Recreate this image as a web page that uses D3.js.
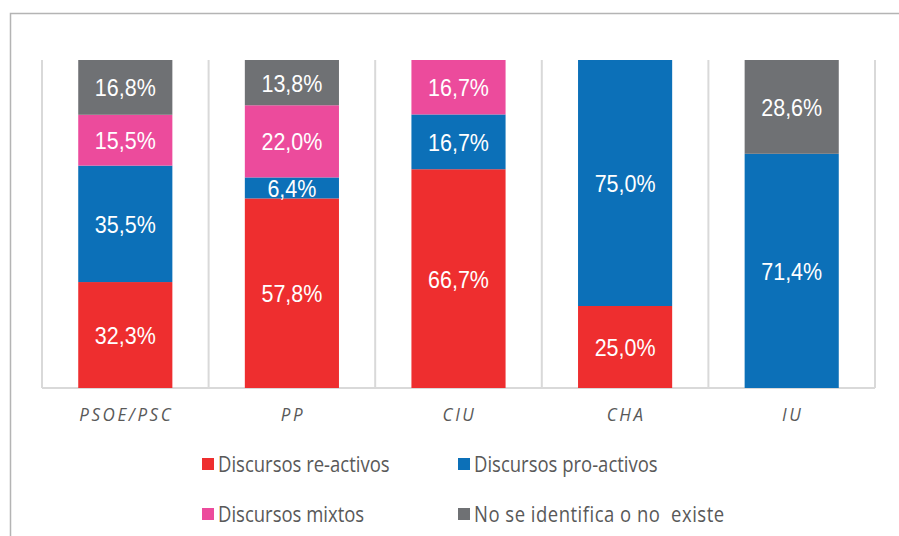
<!DOCTYPE html>
<html>
<head>
<meta charset="utf-8">
<script src="https://cdn.jsdelivr.net/npm/d3@7"></script>
<style>
  body { margin: 0; background: white; }
</style>
</head>
<body>
<div id="chart"></div>
<script>
const partidos = ["PSOE/PSC", "PP", "CIU", "CHA", "IU"];
const series = ["Discursos re-activos", "Discursos pro-activos", "Discursos mixtos", "No se identifica o no  existe"];
const colores = ["#ee2e2f", "#0c70b8", "#ec4b9c", "#6f7174"];

const reactivos = [32.3, 57.8, 66.7, 25.0, 0];
const proactivos = [35.5, 6.4, 16.7, 75.0, 71.4];
const mixtos = [15.5, 22.0, 16.7, 0, 0];
const noExiste = [16.8, 13.8, 0, 0, 28.6];

const width = 899;
const height = 536;
const margin = { top: 60, right: 24, bottom: 148, left: 42 };

const svg = d3.select("#chart")
    .append("svg")
    .attr("width", width)
    .attr("height", height);

// marco exterior
svg.append("rect")
    .attr("x", 10.5)
    .attr("y", 13.5)
    .attr("width", 900)
    .attr("height", 540)
    .attr("fill", "none")
    .attr("stroke", "#b4b4b4")
    .attr("stroke-width", 1.5);

const x = d3.scaleBand()
    .domain(partidos)
    .range([margin.left, width - margin.right])
    .paddingInner(0.435)
    .paddingOuter(0.2175);

const y = d3.scaleLinear()
    .domain([0, 100])
    .range([height - margin.bottom, margin.top]);

const step = x.step();
const x0 = margin.left;

// lineas verticales
svg.append("g")
    .selectAll("line")
    .data(d3.range(partidos.length + 1))
    .enter()
    .append("line")
    .attr("x1", i => x0 + i * step)
    .attr("x2", i => x0 + i * step)
    .attr("y1", y(100))
    .attr("y2", y(0))
    .attr("stroke", "#d9d9d9")
    .attr("stroke-width", 2);

svg.append("line")
    .attr("x1", x0)
    .attr("x2", x0 + partidos.length * step)
    .attr("y1", y(0))
    .attr("y2", y(0))
    .attr("stroke", "#d9d9d9")
    .attr("stroke-width", 2);

const tabla = partidos.map((p, i) => ({
    partido: p,
    [series[0]]: reactivos[i],
    [series[1]]: proactivos[i],
    [series[2]]: mixtos[i],
    [series[3]]: noExiste[i]
}));

const stack = d3.stack().keys(series);
const capas = stack(tabla);

const g = svg.append("g");

capas.forEach((capa, k) => {
    const visibles = capa.filter(d => d[1] - d[0] > 0);

    g.selectAll(".seg" + k)
        .data(visibles)
        .enter()
        .append("rect")
        .attr("x", d => x(d.data.partido))
        .attr("y", d => y(Math.min(d[1], 100)))
        .attr("width", x.bandwidth())
        .attr("height", d => y(d[0]) - y(Math.min(d[1], 100)))
        .attr("fill", colores[k]);

    g.selectAll(".lab" + k)
        .data(visibles)
        .enter()
        .append("text")
        .attr("transform", d =>
            `translate(${x(d.data.partido) + x.bandwidth() / 2},${y((d[0] + Math.min(d[1], 100)) / 2)}) scale(1,1.15)`)
        .attr("dy", "0.36em")
        .attr("text-anchor", "middle")
        .attr("fill", "white")
        .style("font-family", "'Liberation Sans', Arial, sans-serif")
        .style("font-size", "21.5px")
        .text(d => (d[1] - d[0]).toFixed(1).replace(".", ",") + "%");
});

// etiquetas eje x
svg.append("g")
    .selectAll("text")
    .data(partidos)
    .enter()
    .append("text")
    .attr("transform", d => `translate(${x(d) + x.bandwidth() / 2 + 1},421) scale(1,1.1)`)
    .attr("text-anchor", "middle")
    .attr("fill", "#595959")
    .style("font-family", "'Open Sans', sans-serif")
    .style("font-style", "italic")
    .style("font-size", "17px")
    .style("letter-spacing", "2.6px")
    .text(d => d);

// leyenda
const leyX = [202, 458];
const leyY = [458, 508];

const ley = svg.append("g")
    .selectAll("g")
    .data(series)
    .enter()
    .append("g")
    .attr("transform", (d, i) => `translate(${leyX[i % 2]},${leyY[Math.floor(i / 2)]})`);

ley.append("rect")
    .attr("width", 12)
    .attr("height", 12)
    .attr("fill", (d, i) => colores[i]);

ley.append("text")
    .attr("transform", "translate(16,13.5) scale(1,1.15)")
    .attr("fill", "#595959")
    .style("font-family", "'Open Sans', sans-serif")
    .style("font-size", "18.5px")
    .style("white-space", "pre")
    .style("letter-spacing", (d, i) => i === 3 ? "0.5px" : "0px")
    .text(d => d);
</script>
</body>
</html>
